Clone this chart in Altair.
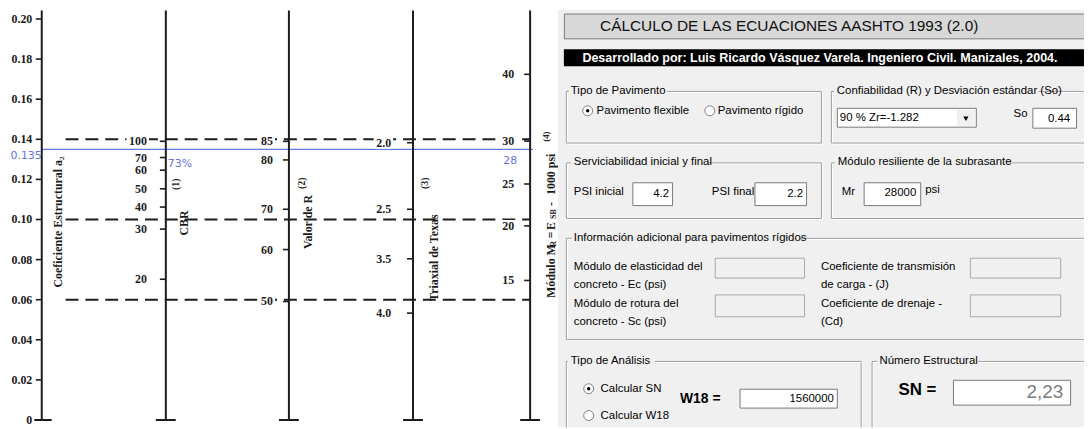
import altair as alt
import pandas as pd

a2_values = [0.0, 0.02, 0.04, 0.06, 0.08, 0.10, 0.12, 0.14, 0.16, 0.18, 0.20]
a2_labels = ["0", "0.02", "0.04", "0.06", "0.08", "0.10", "0.12", "0.14", "0.16", "0.18", "0.20"]

cbr_labels = ["100", "70", "60", "50", "40", "30", "20"]
cbr_at_a2 = [0.139, 0.1309, 0.1246, 0.1153, 0.1062, 0.0952, 0.0702]

r_labels = ["85", "80", "70", "60", "50"]
r_at_a2 = [0.139, 0.1297, 0.1051, 0.0850, 0.0591]

texas_labels = ["2.0", "2.5", "3.5", "4.0"]
texas_at_a2 = [0.1383, 0.1051, 0.0804, 0.0533]

mr_labels = ["40", "30", "25", "20", "15"]
mr_at_a2 = [0.1724, 0.1391, 0.1177, 0.0968, 0.0696]

guide_a2 = [0.14, 0.10, 0.06]
reading_a2 = 0.135
reading_a2_label = "0.135"
reading_cbr_label = "73%"
reading_mr_label = "28"

# ---------------- program panel texts ----------------
panel_title = "CÁLCULO DE LAS ECUACIONES AASHTO 1993 (2.0)"
panel_credit = "Desarrollado por: Luis Ricardo Vásquez Varela.  Ingeniero Civil. Manizales, 2004."
group_titles = ["Tipo de Pavimento", "Confiabilidad (R) y Desviación estándar (So)",
                "Serviciabilidad inicial y final", "Módulo resiliente de la subrasante",
                "Información adicional para pavimentos rígidos", "Tipo de Análisis",
                "Número Estructural"]
field_values = ["0.44", "4.2", "2.2", "28000", "1560000"]
sn_value = "2,23"

# ---------------- style / layout ----------------
INK = "#1c1c1c"
BLUE = "#6374e4"
SERIF = "Liberation Serif"
SANS = "Liberation Sans"
UI_BG = "#f0f0f0"

W, H = 1084, 421          # whole drawing, placed at page (8, 8)
PAGE0 = 8
A2_CENTER_PX = 219.5      # page y of a2 = 0.10
PX_PER_A2 = 2020.0


def ua(py):
    """page y (pixels) -> a2 value on the nomograph scale"""
    return 0.10 - (py - A2_CENTER_PX) / PX_PER_A2


axis_px = {"a2": 42, "cbr": 167, "r": 291, "tx": 416, "mr": 534}
label_gap_px = {"a2": 9.5, "cbr": 19, "r": 16, "tx": 22, "mr": 16}

xs = alt.Scale(domain=[PAGE0, PAGE0 + W], nice=False, zero=False)
ys = alt.Scale(domain=[ua(PAGE0 + H), ua(PAGE0)], nice=False, zero=False)
ps = alt.Scale(domain=[PAGE0, PAGE0 + H], nice=False, zero=False, reverse=True)


def XQ(f):
    return alt.X(f"{f}:Q", scale=xs, axis=None)


def YQ(f):
    return alt.Y(f"{f}:Q", scale=ys, axis=None)


def PY(f):
    return alt.Y(f"{f}:Q", scale=ps, axis=None)


# ---------------- left: nomograph ----------------
rows = []
for key, labs, vals in [("a2", a2_labels, a2_values), ("cbr", cbr_labels, cbr_at_a2),
                        ("r", r_labels, r_at_a2), ("tx", texas_labels, texas_at_a2),
                        ("mr", mr_labels, mr_at_a2)]:
    for lab, v in zip(labs, vals):
        ax = axis_px[key]
        lx = ax - label_gap_px[key]
        wpx = 6.2 * len(lab) - 3 * lab.count(".")
        rows.append({"x": ax, "x0": ax - 6, "lx": lx, "y": v, "label": lab,
                     "bx0": lx - wpx - 2, "bx1": lx + 2,
                     "by0": v - 6 / PX_PER_A2, "by1": v + 6 / PX_PER_A2})
ticks_df = pd.DataFrame(rows)

axes_df = pd.DataFrame({"x": list(axis_px.values()), "y0": 0.0, "y1": ua(9)})
axes_df["c0"] = axes_df["x"] - 10
axes_df["c1"] = axes_df["x"] + 10
guides_df = pd.DataFrame({"x0": 66, "x1": axis_px["mr"], "y": guide_a2})
blue_df = pd.DataFrame({"x0": [axis_px["a2"]], "x1": [537], "y": [reading_a2]})
blue_right_df = pd.DataFrame({
    "t": [reading_a2_label, reading_mr_label],
    "x": [axis_px["a2"], axis_px["mr"] - 13],
    "y": [reading_a2 - 7 / PX_PER_A2, reading_a2 - 12 / PX_PER_A2]})
blue_left_df = pd.DataFrame({"t": [reading_cbr_label], "x": [axis_px["cbr"] + 2],
                             "y": [reading_a2 - 15 / PX_PER_A2]})

title_pieces = [
    ("Coeficiente Estructural a₂", 58, 222, 12),
    ("CBR", 185, 223, 12),
    ("(1)", 177.5, 184, 10),
    ("Valor de R", 310, 222, 12),
    ("(2)", 304, 183, 10),
    ("Triaxial de Texas", 437, 258, 12),
    ("(3)", 428, 183, 10),
    ("Módulo M", 555, 271.5, 12),
    ("R", 558, 244, 8),
    ("=", 555, 235, 12),
    ("E", 555, 226, 12),
    ("SB", 558, 214, 8),
    ("-", 555, 204, 12),
    ("1000 psi", 555, 174, 12),
    ("(4)", 550, 136, 9),
]
titles_df = pd.DataFrame([{"t": t, "x": px, "y": ua(py), "fs": fs}
                          for t, px, py, fs in title_pieces])

left_layers = [
    alt.Chart(guides_df).mark_rule(color=INK, strokeWidth=2, strokeDash=[13, 7]).encode(
        x=XQ("x0"), x2="x1", y=YQ("y")),
    alt.Chart(blue_df).mark_rule(color=BLUE, strokeWidth=1.2).encode(
        x=XQ("x0"), x2="x1", y=YQ("y")),
    alt.Chart(axes_df).mark_rule(color=INK, strokeWidth=2).encode(
        x=XQ("x"), y=YQ("y0"), y2="y1"),
    alt.Chart(axes_df).mark_rule(color=INK, strokeWidth=2).encode(
        x=XQ("c0"), x2="c1", y=YQ("y0")),
    alt.Chart(ticks_df).mark_rule(color=INK, strokeWidth=1.6).encode(
        x=XQ("x0"), x2="x", y=YQ("y")),
    alt.Chart(ticks_df).mark_rect(color="white").encode(
        x=XQ("bx0"), x2="bx1", y=YQ("by0"), y2="by1"),
    alt.Chart(ticks_df).mark_text(align="right", baseline="middle", font=SERIF, fontSize=12,
                                  fontWeight="bold", color=INK).encode(
        x=XQ("lx"), y=YQ("y"), text="label:N"),
    alt.Chart(blue_right_df).mark_text(align="right", baseline="middle", font="DejaVu Sans",
                                       fontSize=11, color=BLUE).encode(
        x=XQ("x"), y=YQ("y"), text="t:N"),
    alt.Chart(blue_left_df).mark_text(align="left", baseline="middle", font="DejaVu Sans",
                                      fontSize=11, color=BLUE).encode(
        x=XQ("x"), y=YQ("y"), text="t:N"),
    alt.Chart(titles_df).mark_text(angle=270, align="center", baseline="middle", font=SERIF,
                                   fontWeight="bold", color=INK).encode(
        x=XQ("x"), y=YQ("y"), text="t:N", size=alt.Size("fs:Q", scale=None)),
]
left = alt.layer(*left_layers)


# ---------------- right: program panel (page pixel coordinates) ----------------
def rects(df, **kw):
    return alt.Chart(df).mark_rect(clip=True, **kw).encode(
        x=XQ("x0"), x2="x1", y=PY("y0"), y2="y1")


def texts(df, **kw):
    base = dict(baseline="middle", font=SANS, fontSize=11.5, color="black", clip=True)
    base.update(kw)
    return alt.Chart(df).mark_text(**base).encode(x=XQ("x"), y=PY("y"), text="t:N")


bg_df = pd.DataFrame({"x0": [562], "x1": [1092], "y0": [8], "y1": [429]})
titlebox_df = pd.DataFrame({"x0": [568.5], "x1": [1100], "y0": [12.5], "y1": [37.5]})
blackbar_df = pd.DataFrame({"x0": [568], "x1": [1100], "y0": [48], "y1": [65]})

frames = [  # x0, y0, x1, y1, title x, gap x0, gap x1
    (570.5, 90.5, 827.5, 142.5, 575, 573, 672),
    (837.5, 90.5, 1100, 142.5, 843, 840, 1046),
    (570.5, 162.5, 827.5, 218.5, 578, 575, 713),
    (837.5, 162.5, 1100, 218.5, 844, 841, 1015),
    (570.5, 238.5, 1100, 340.5, 578, 576, 806),
    (570.5, 362.5, 867.5, 440, 575, 572, 660),
    (878.5, 362.5, 1100, 440, 886, 884, 985),
]
frame_df = pd.DataFrame([{"x0": f[0], "y0": f[1], "x1": f[2], "y1": f[3]} for f in frames])
frame_hi_df = frame_df + 1
gap_df = pd.DataFrame([{"x0": f[5], "x1": f[6], "y0": f[1] - 6, "y1": f[1] + 6} for f in frames])
gtitle_df = pd.DataFrame([{"t": t, "x": f[4], "y": f[1] - 0.5} for t, f in zip(group_titles, frames)])

white_boxes = pd.DataFrame([
    {"x0": 843.5, "x1": 983.5, "y0": 107.5, "y1": 126.5},
    {"x0": 1040.5, "x1": 1084.5, "y0": 107.5, "y1": 127.5},
    {"x0": 637.5, "x1": 677.5, "y0": 182.5, "y1": 205.5},
    {"x0": 760.5, "x1": 812.5, "y0": 182.5, "y1": 205.5},
    {"x0": 870.5, "x1": 927.5, "y0": 182.5, "y1": 205.5},
    {"x0": 745.5, "x1": 843.5, "y0": 390.5, "y1": 409.5},
    {"x0": 960.5, "x1": 1078.5, "y0": 381.5, "y1": 406.5},
])
grey_boxes = pd.DataFrame([
    {"x0": 720.5, "x1": 810.5, "y0": 258.5, "y1": 278.5},
    {"x0": 977.5, "x1": 1068.5, "y0": 258.5, "y1": 278.5},
    {"x0": 720.5, "x1": 810.5, "y0": 295.5, "y1": 317.5},
    {"x0": 977.5, "x1": 1068.5, "y0": 295.5, "y1": 317.5},
])
combo_btn = pd.DataFrame({"x0": [964], "x1": [982], "y0": [109], "y1": [125]})
arrow_df = pd.DataFrame({"x": [973], "y": [118]})

labels_df = pd.DataFrame([
    ("Pavimento flexible", 601, 110), ("Pavimento rígido", 723, 110),
    ("90 % Zr=-1.282", 846, 117), ("So", 1021, 113),
    ("PSI inicial", 578, 192), ("PSI final", 717, 192), ("Mr", 848, 192), ("psi", 932, 190),
    ("Módulo de elasticidad del", 578, 267), ("concreto - Ec (psi)", 578, 286),
    ("Coeficiente de transmisión", 827, 267), ("de carga - (J)", 827, 286),
    ("Módulo de rotura del", 578, 305), ("concreto - Sc (psi)", 578, 323),
    ("Coeficiente de drenaje -", 827, 305), ("(Cd)", 827, 323),
    ("Calcular SN", 605, 390), ("Calcular W18", 605, 417),
], columns=["t", "x", "y"])
values_df = pd.DataFrame({"t": field_values, "x": [1078, 674, 809, 923, 840],
                          "y": [118, 194, 194, 193, 400]})
radio_df = pd.DataFrame({"x": [592, 715, 593, 593], "y": [110, 110, 390, 417],
                         "on": [1, 0, 1, 0]})

right_layers = [
    rects(bg_df, color=UI_BG),
    rects(titlebox_df, fill="#d8d8d8", stroke="#7a7a7a", strokeWidth=1),
    texts(pd.DataFrame({"t": [panel_title], "x": [795], "y": [25]}), align="center",
          fontSize=15.5, color="#111111"),
    rects(blackbar_df, color="black"),
    texts(pd.DataFrame({"t": [panel_credit], "x": [826], "y": [56.5]}), align="center",
          fontSize=12.6, fontWeight="bold", color="white"),
    rects(frame_hi_df, fillOpacity=0, fill=UI_BG, stroke="white", strokeWidth=1),
    rects(frame_df, fillOpacity=0, fill=UI_BG, stroke="#a0a0a0", strokeWidth=1),
    rects(gap_df, color=UI_BG),
    texts(gtitle_df, align="left"),
    rects(white_boxes, fill="white", stroke="#7a7a7a", strokeWidth=1),
    rects(grey_boxes, fill=UI_BG, stroke="#a8a8a8", strokeWidth=1),
    rects(combo_btn, fill=UI_BG),
    alt.Chart(arrow_df).mark_point(shape="triangle-down", filled=True, color="black",
                                   size=28, opacity=1, clip=True).encode(x=XQ("x"), y=PY("y")),
    texts(labels_df, align="left"),
    texts(values_df, align="right"),
    texts(pd.DataFrame({"t": ["W18 ="], "x": [685], "y": [400]}), align="left",
          fontSize=14, fontWeight="bold"),
    texts(pd.DataFrame({"t": ["SN ="], "x": [905], "y": [391]}), align="left",
          fontSize=17, fontWeight="bold"),
    texts(pd.DataFrame({"t": [sn_value], "x": [1071], "y": [393]}), align="right",
          fontSize=19, color="#7c7c7c"),
    alt.Chart(radio_df).mark_point(shape="circle", filled=True, fill="white", stroke="#808080",
                                   strokeWidth=1, size=100, opacity=1, clip=True).encode(
        x=XQ("x"), y=PY("y")),
    alt.Chart(radio_df[radio_df["on"] == 1]).mark_point(shape="circle", filled=True,
                                                        color="black", size=12, opacity=1,
                                                        clip=True).encode(
        x=XQ("x"), y=PY("y")),
]
right = alt.layer(*right_layers)

chart = (alt.layer(left, right)
         .resolve_scale(y="independent")
         .properties(width=W, height=H, padding=0, background="white",
                     autosize=alt.AutoSizeParams(type="none"))
         .configure_view(strokeWidth=0))

chart.save("out.html", embed_options={"renderer": "svg", "actions": False})
